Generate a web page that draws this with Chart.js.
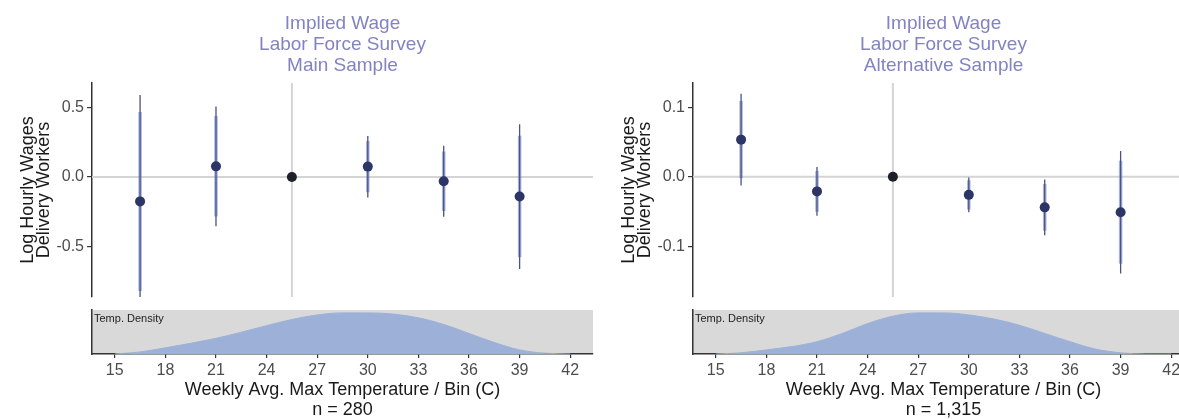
<!DOCTYPE html>
<html><head><meta charset="utf-8">
<script src="https://cdn.jsdelivr.net/npm/chart.js@4.4.1/dist/chart.umd.min.js"></script>
<style>
html,body{margin:0;padding:0;background:#fff;overflow:hidden;width:1179px;height:419px;position:relative;}
.box{position:absolute;}
</style></head><body>
<div class="box" style="left:0;top:0;width:605px;height:302px"><canvas id="mainL"></canvas></div>
<div class="box" style="left:0;top:300px;width:605px;height:119px"><canvas id="densL"></canvas></div>
<div class="box" style="left:601px;top:0;width:605px;height:302px"><canvas id="mainR"></canvas></div>
<div class="box" style="left:601px;top:300px;width:605px;height:119px"><canvas id="densR"></canvas></div>
<script>
// ---- shared axes ----
const bins = [16.5, 21, 25.5, 30, 34.5, 39];
const refBin = 25.5;
const xTicks = [15, 18, 21, 24, 27, 30, 33, 36, 39, 42];
const xTickLabels = ['15', '18', '21', '24', '27', '30', '33', '36', '39', '42'];
const xLimits = [13.65, 43.35];
const xTitle = 'Weekly Avg. Max Temperature / Bin (C)';
const yTitle = ['Log Hourly Wages', 'Delivery Workers'];

// ---- left panel: Main Sample ----
const mainTitle = ['Implied Wage', 'Labor Force Survey', 'Main Sample'];
const mainN = 'n = 280';
const mainEst  = [-0.175, 0.077, 0, 0.075, -0.030, -0.140];
const mainLo95 = [-0.940, -0.353, 0, -0.147, -0.285, -0.660];
const mainHi95 = [0.590, 0.507, 0, 0.295, 0.225, 0.380];
const mainLo90 = [-0.818, -0.284, 0, -0.110, -0.244, -0.577];
const mainHi90 = [0.468, 0.438, 0, 0.260, 0.184, 0.297];
const mainYTicks = [-0.5, 0, 0.5];
const mainYTickLabels = ['-0.5', '0.0', '0.5'];
const mainYLimits = [-0.862, 0.676];

// ---- right panel: Alternative Sample ----
const altTitle = ['Implied Wage', 'Labor Force Survey', 'Alternative Sample'];
const altN = 'n = 1,315';
const altEst  = [0.0535, -0.021, 0, -0.026, -0.044, -0.051];
const altLo95 = [-0.0125, -0.056, 0, -0.051, -0.084, -0.139];
const altHi95 = [0.1195, 0.014, 0, -0.001, -0.004, 0.037];
const altLo90 = [-0.002, -0.0504, 0, -0.047, -0.0776, -0.125];
const altHi90 = [0.109, 0.0084, 0, -0.005, -0.0104, 0.023];
const altYTicks = [-0.1, 0, 0.1];
const altYTickLabels = ['-0.1', '0.0', '0.1'];
const altYLimits = [-0.173, 0.135];

// ---- temperature density strips ----
const densityTemps = [15, 16.5, 18, 19.5, 21, 22.5, 24, 25.5, 27, 28.5, 30, 31.5, 33, 34.5, 36, 37.5, 39, 40.5, 42];
const mainDensity = [0, 0.05, 0.15, 0.26, 0.38, 0.53, 0.69, 0.84, 0.95, 1.0, 1.0, 0.97, 0.88, 0.72, 0.5, 0.28, 0.1, 0.02, 0];
const altDensity  = [0, 0.03, 0.1, 0.18, 0.3, 0.5, 0.74, 0.92, 1.0, 1.0, 0.95, 0.85, 0.7, 0.5, 0.3, 0.12, 0.03, 0, 0];
const densityLabel = 'Temp. Density';

const FONT = "'Liberation Sans', Arial, Helvetica, sans-serif";
Chart.defaults.font.family = FONT;

function segs(lo, hi) {
  const out = [];
  bins.forEach((b, i) => {
    if (lo[i] === hi[i]) return;
    out.push({x: b, y: lo[i]}, {x: b, y: hi[i]}, {x: b, y: null});
  });
  return out;
}

function makeMain(id, title, est, lo95, hi95, lo90, hi90, yTicks, yTickLabels, yLim) {
  const pts = bins.map((b, i) => ({x: b, y: est[i]}));
  const ptColors = bins.map(b => b === refBin ? '#1f1f2a' : '#2c3566');
  new Chart(document.getElementById(id), {
    type: 'line',
    data: {datasets: [
      {data: pts, showLine: false, pointRadius: 5, pointHoverRadius: 5, pointBackgroundColor: ptColors, pointBorderWidth: 0},
      {data: segs(lo95, hi95), borderColor: '#4a5382', borderWidth: 1.3, pointRadius: 0, spanGaps: false},
      {data: segs(lo90, hi90), borderColor: 'rgba(112,130,200,0.6)', borderWidth: 3.5, pointRadius: 0, spanGaps: false},
      {data: [{x: refBin, y: yLim[0]}, {x: refBin, y: yLim[1]}], borderColor: '#d4d4d4', borderWidth: 2, pointRadius: 0},
      {data: [{x: xLimits[0], y: 0}, {x: xLimits[1], y: 0}], borderColor: '#d4d4d4', borderWidth: 2, pointRadius: 0}
    ]},
    options: {
      responsive: true, maintainAspectRatio: false, animation: false,
      layout: {padding: {left: 0, right: 12, top: 0, bottom: 0}},
      plugins: {
        legend: {display: false}, tooltip: {enabled: false},
        title: {display: true, text: title, fullSize: false, color: '#8383c4',
          font: {size: 19, lineHeight: 1.1, weight: 'normal'}, padding: {top: 13.5, bottom: 6.8}}
      },
      scales: {
        x: {type: 'linear', min: xLimits[0], max: xLimits[1], display: false},
        y: {type: 'linear', min: yLim[0], max: yLim[1],
          afterBuildTicks: s => { s.ticks = yTicks.map(v => ({value: v})); },
          afterFit: s => { s.width = 92; s.paddingTop = 0; s.paddingBottom = 0; },
          ticks: {callback: (v, i) => yTickLabels[i], color: '#4d4d4d', font: {size: 16}, padding: 3},
          grid: {display: true, drawOnChartArea: false, drawTicks: true, tickLength: 5, color: '#333', lineWidth: 1.2},
          border: {display: true, color: '#333', width: 1.5},
          title: {display: true, text: yTitle, color: '#1a1a1a', font: {size: 18, lineHeight: 0.9}, padding: {top: 20, bottom: 0}}
        }
      }
    }
  });
}

const bandPlugin = {
  id: 'band',
  beforeDraw(chart) {
    const {ctx, chartArea: a} = chart;
    ctx.save();
    ctx.fillStyle = '#d9d9d9';
    ctx.fillRect(a.left, a.top, a.right - a.left, a.bottom - a.top);
    ctx.restore();
  },
  afterDatasetsDraw(chart) {
    const {ctx, chartArea: a} = chart;
    ctx.save();
    ctx.fillStyle = '#222';
    ctx.font = '11px ' + FONT;
    ctx.textBaseline = 'top';
    ctx.textAlign = 'left';
    ctx.fillText(densityLabel, a.left + 2, a.top + 3);
    ctx.restore();
  }
};

function makeDensity(id, dens, nLabel) {
  new Chart(document.getElementById(id), {
    type: 'line',
    data: {datasets: [{
      data: densityTemps.map((t, i) => ({x: t, y: dens[i]})),
      fill: 'origin', backgroundColor: '#9db1d8', borderColor: '#9db1d8', borderWidth: 1,
      pointRadius: 0, cubicInterpolationMode: 'monotone'
    }]},
    options: {
      responsive: true, maintainAspectRatio: false, animation: false,
      layout: {padding: {left: 0, right: 12, top: 10, bottom: 0}},
      plugins: {legend: {display: false}, tooltip: {enabled: false}},
      scales: {
        x: {type: 'linear', min: xLimits[0], max: xLimits[1],
          afterBuildTicks: s => { s.ticks = xTicks.map(v => ({value: v})); },
          afterFit: s => { s.height = 65; s.paddingLeft = 0; s.paddingRight = 0; },
          ticks: {callback: (v, i) => xTickLabels[i], color: '#4d4d4d', font: {size: 16}, padding: 3, maxRotation: 0, autoSkip: false},
          grid: {display: true, drawOnChartArea: false, drawTicks: true, tickLength: 4, color: '#333', lineWidth: 1.2},
          border: {display: true, color: '#333', width: 1.5},
          title: {display: true, text: [xTitle, nLabel], color: '#1a1a1a', font: {size: 18, lineHeight: 1.1}, padding: {top: 0, bottom: -1}}
        },
        y: {min: 0, max: 1.07,
          afterFit: s => { s.width = 92; s.paddingTop = 0; s.paddingBottom = 0; },
          ticks: {display: false}, grid: {display: false},
          border: {display: true, color: '#333', width: 1.5}
        }
      }
    },
    plugins: [bandPlugin]
  });
}

makeMain('mainL', mainTitle, mainEst, mainLo95, mainHi95, mainLo90, mainHi90, mainYTicks, mainYTickLabels, mainYLimits);
makeMain('mainR', altTitle, altEst, altLo95, altHi95, altLo90, altHi90, altYTicks, altYTickLabels, altYLimits);
makeDensity('densL', mainDensity, mainN);
makeDensity('densR', altDensity, altN);
</script>
</body></html>
